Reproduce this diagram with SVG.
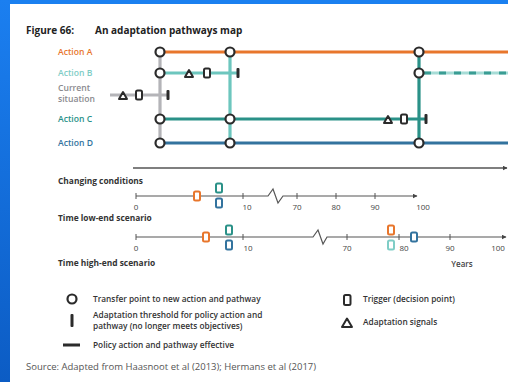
<svg xmlns="http://www.w3.org/2000/svg" width="508" height="382" viewBox="0 0 508 382">
<defs>
<linearGradient id="frame" x1="0" y1="0" x2="0" y2="1"><stop offset="0" stop-color="#1b7ff0"/><stop offset="1" stop-color="#0c5cc4"/></linearGradient>
<marker id="arr" viewBox="0 0 10 10" refX="9" refY="5" markerWidth="5" markerHeight="5" orient="auto" markerUnits="userSpaceOnUse"><path d="M0,0 L10,5 L0,10 Z" fill="#444"/></marker>
</defs>
<style>
text{font-family:"Open Sans","Liberation Sans",sans-serif;}
.ttl{font-size:10px;font-weight:700;fill:#222;}
.lab{font-size:8.6px;font-weight:600;}
.hd{font-size:8.4px;font-weight:700;fill:#333;}
.tk{font-size:8px;fill:#444;text-anchor:middle;}
.leg{font-size:8.3px;font-weight:600;fill:#333;}
.src{font-size:9.5px;fill:#555;}
.ln{stroke-width:3.2;fill:none;}
.pt{fill:#fff;stroke:#2b2b2b;stroke-width:2.2;}
.trig{fill:#fff;stroke:#2b2b2b;stroke-width:2;}
.sig{fill:#fff;stroke:#2b2b2b;stroke-width:2;stroke-linejoin:round;}
.thr{fill:#2b2b2b;}
.ax{stroke:#555;stroke-width:1.2;fill:none;}
.tick{stroke:#555;stroke-width:1;}
.m{fill:#fff;stroke-width:2;}
</style>
<rect width="508" height="382" fill="#fff"/>
<rect x="0" y="0" width="508" height="4" fill="#1a80f0"/>
<rect x="0" y="0" width="10" height="382" fill="url(#frame)"/>

<text class="ttl" x="26" y="34">Figure 66:</text>
<text class="ttl" x="95" y="34">An adaptation pathways map</text>

<g id="labels">
<text class="lab" x="58" y="55" fill="#e8762c">Action A</text>
<text class="lab" x="58" y="76" fill="#7fcdc6">Action B</text>
<text class="lab" x="58" y="91" fill="#8a8a8e">Current</text>
<text class="lab" x="58" y="101.5" fill="#8a8a8e">situation</text>
<text class="lab" x="58" y="122" fill="#2a9188">Action C</text>
<text class="lab" x="58" y="146" fill="#33739e">Action D</text>
</g>

<g id="connectors">
<line class="ln" x1="160" y1="52" x2="160" y2="143" stroke="#b4b4b8"/>
<line class="ln" x1="230" y1="52" x2="230" y2="143" stroke="#6dc6be"/>
<line class="ln" x1="419" y1="52" x2="419" y2="143" stroke="#2a9188"/>
<line class="ln" x1="160" y1="52" x2="508" y2="52" stroke="#e8762c"/>
<line class="ln" x1="160" y1="73" x2="238" y2="73" stroke="#6dc6be"/>
<line class="ln" x1="419" y1="73" x2="508" y2="73" stroke="#a6dcd6"/>
<line class="ln" x1="424" y1="73" x2="508" y2="73" stroke="#3a9d94" stroke-dasharray="7 8"/>
<line class="ln" x1="110" y1="95" x2="168" y2="95" stroke="#b4b4b8"/>
<line class="ln" x1="160" y1="119" x2="426" y2="119" stroke="#2a9188"/>
<line class="ln" x1="160" y1="143" x2="508" y2="143" stroke="#33739e"/>
</g>

<g id="current-situation">
<path class="sig" d="M119,99 L123,92 L127,99 Z"/>
<rect class="trig" x="136" y="90.5" width="6" height="9" rx="1.5"/>
<rect class="thr" x="166.5" y="90" width="3" height="10" rx="1"/>
</g>
<g id="action-b">
<path class="sig" d="M185,77 L189,70 L193,77 Z"/>
<rect class="trig" x="204" y="68.5" width="6" height="9" rx="1.5"/>
<rect class="thr" x="236.5" y="68" width="3" height="10" rx="1"/>
</g>
<g id="action-c">
<path class="sig" d="M384,123 L388,116 L392,123 Z"/>
<rect class="trig" x="401" y="114.5" width="6" height="9" rx="1.5"/>
<rect class="thr" x="424.5" y="114" width="3" height="10" rx="1"/>
</g>
<g id="transfer-points">
<circle class="pt" cx="160" cy="52" r="4.5"/>
<circle class="pt" cx="160" cy="73" r="4.5"/>
<circle class="pt" cx="160" cy="119" r="4.5"/>
<circle class="pt" cx="160" cy="143" r="4.5"/>
<circle class="pt" cx="230" cy="52" r="4.5"/>
<circle class="pt" cx="230" cy="119" r="4.5"/>
<circle class="pt" cx="230" cy="143" r="4.5"/>
<circle class="pt" cx="419" cy="52" r="4.5"/>
<circle class="pt" cx="419" cy="73" r="4.5"/>
<circle class="pt" cx="419" cy="143" r="4.5"/>
</g>

<g id="conditions-axis">
<line x1="133" y1="168" x2="507" y2="168" stroke="#555" stroke-width="1.6" marker-end="url(#arr)"/>
<text class="hd" x="58" y="184">Changing conditions</text>
</g>

<g id="low-end-axis">
<path class="ax" d="M136,196 H268 L273,189 L278,203 L283,196 H417" marker-end="url(#arr)"/>
<line class="tick" x1="136" y1="193" x2="136" y2="199"/>
<line class="tick" x1="243" y1="193" x2="243" y2="199"/>
<line class="tick" x1="297" y1="193" x2="297" y2="199"/>
<line class="tick" x1="336" y1="193" x2="336" y2="199"/>
<line class="tick" x1="375" y1="193" x2="375" y2="199"/>
<text class="tk" x="136" y="210">0</text>
<text class="tk" x="247" y="210">10</text>
<text class="tk" x="297" y="210">70</text>
<text class="tk" x="336" y="210">80</text>
<text class="tk" x="375" y="210">90</text>
<text class="tk" x="423" y="210">100</text>
<rect class="m" x="194" y="191.5" width="6" height="9" rx="1.5" stroke="#e8762c"/>
<rect class="m" x="216" y="183.5" width="6" height="9" rx="1.5" stroke="#2a9188"/>
<rect class="m" x="216" y="198.5" width="6" height="9" rx="1.5" stroke="#33739e"/>
<text class="hd" x="58" y="221">Time low-end scenario</text>
</g>

<g id="high-end-axis">
<path class="ax" d="M136,237 H313 L318,230 L323,244 L327,237 H506" marker-end="url(#arr)"/>
<line class="tick" x1="136" y1="234" x2="136" y2="240"/>
<line class="tick" x1="243" y1="234" x2="243" y2="240"/>
<line class="tick" x1="347" y1="234" x2="347" y2="240"/>
<line class="tick" x1="399" y1="234" x2="399" y2="240"/>
<line class="tick" x1="450" y1="234" x2="450" y2="240"/>
<text class="tk" x="136" y="251">0</text>
<text class="tk" x="248" y="251">10</text>
<text class="tk" x="347" y="251">70</text>
<text class="tk" x="404" y="251">80</text>
<text class="tk" x="450" y="251">90</text>
<text class="tk" x="498" y="251">100</text>
<rect class="m" x="203" y="232.5" width="6" height="9" rx="1.5" stroke="#e8762c"/>
<rect class="m" x="226" y="225.5" width="6" height="9" rx="1.5" stroke="#2a9188"/>
<rect class="m" x="226" y="240.5" width="6" height="9" rx="1.5" stroke="#33739e"/>
<rect class="m" x="388" y="225.5" width="6" height="9" rx="1.5" stroke="#e8762c"/>
<rect class="m" x="388" y="240.5" width="6" height="9" rx="1.5" stroke="#7fcdc6"/>
<rect class="m" x="411" y="232.5" width="6" height="9" rx="1.5" stroke="#33739e"/>
<text class="hd" x="58" y="266">Time high-end scenario</text>
<text class="tk" x="462" y="267" style="font-weight:600">Years</text>
</g>

<g id="legend">
<circle class="pt" cx="72" cy="299" r="4.5"/>
<text class="leg" x="93" y="302">Transfer point to new action and pathway</text>
<rect class="thr" x="70.5" y="314" width="3" height="13" rx="1"/>
<text class="leg" x="93" y="318">Adaptation threshold for policy action and</text>
<text class="leg" x="93" y="329">pathway (no longer meets objectives)</text>
<rect x="63" y="343.5" width="17" height="3" fill="#2b2b2b"/>
<text class="leg" x="93" y="348">Policy action and pathway effective</text>
<rect class="trig" x="344" y="295" width="6.5" height="10" rx="1.5"/>
<text class="leg" x="363" y="302">Trigger (decision point)</text>
<path class="sig" d="M342,327 L347,318.5 L352,327 Z"/>
<text class="leg" x="363" y="325">Adaptation signals</text>
</g>

<text class="src" x="26" y="370">Source: Adapted from Haasnoot et al (2013); Hermans et al (2017)</text>
</svg>
